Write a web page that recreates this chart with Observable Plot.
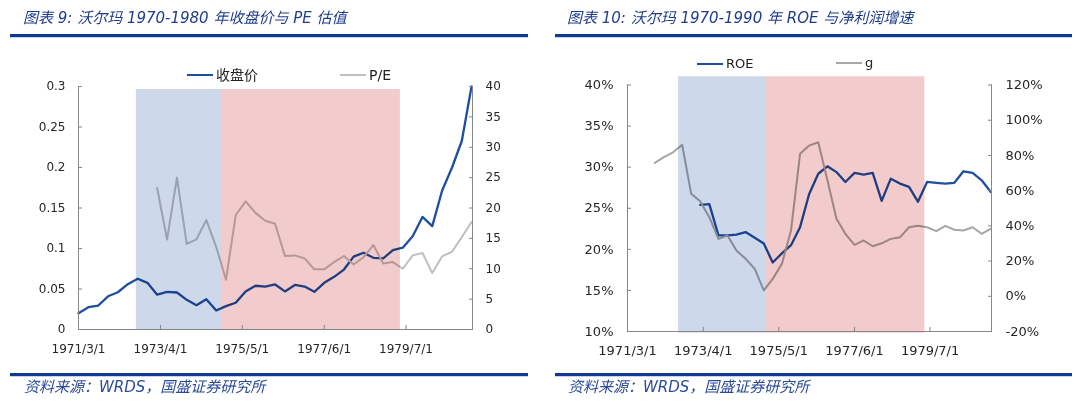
<!DOCTYPE html>
<html><head><meta charset="utf-8">
<script src="https://cdn.jsdelivr.net/npm/d3@7"></script>
<script src="https://cdn.jsdelivr.net/npm/@observablehq/plot@0.6"></script>
<style>
body{margin:0;background:#fff;}
#wrap{position:relative;width:1080px;height:404px;overflow:hidden;font-family:"DejaVu Sans","Noto Sans CJK SC",sans-serif;}
.title{position:absolute;top:8px;font-size:15px;font-style:italic;color:#1f3c8c;white-space:pre;line-height:20px;}
.rule{position:absolute;height:3px;background:#0e3a92;box-shadow:0 1px 0 #c9d3e8;}
.src{position:absolute;top:377px;font-size:15px;font-style:italic;color:#2a4a9a;white-space:pre;line-height:20px;}
.leg{position:absolute;color:#222;display:flex;align-items:center;white-space:nowrap;line-height:18px;}
.leg i{display:inline-block;width:26px;height:0;border-top-style:solid;margin-right:3px;}
.plot{position:absolute;top:40px;}
</style></head>
<body><div id="wrap">
<div class="title" style="left:23px">图表 9: 沃尔玛 1970-1980 年收盘价与 PE 估值</div>
<div class="title" style="left:567px">图表 10: 沃尔玛 1970-1990 年 ROE 与净利润增速</div>
<div class="rule" style="left:10px;width:518px;top:34px"></div>
<div class="rule" style="left:555px;width:517px;top:34px"></div>
<div class="rule" style="left:10px;width:518px;top:373px"></div>
<div class="rule" style="left:555px;width:517px;top:373px"></div>
<div class="src" style="left:24px">资料来源：WRDS，国盛证券研究所</div>
<div class="src" style="left:568px">资料来源：WRDS，国盛证券研究所</div>
<div id="p1" class="plot" style="left:0px"></div>
<div id="p2" class="plot" style="left:540px"></div>
<div class="leg" style="left:187px;top:66px;font-size:14px"><i style="border-top-width:2.5px;border-color:#1f4e9f"></i>收盘价</div>
<div class="leg" style="left:340px;top:66px;font-size:14px"><i style="border-top-width:2px;border-color:#bfbfbf"></i>P/E</div>
<div class="leg" style="left:697px;top:55px;font-size:13px"><i style="border-top-width:2.5px;border-color:#1f4e9f"></i>ROE</div>
<div class="leg" style="left:836px;top:54px;font-size:13px"><i style="border-top-width:2px;border-color:#a6a6a6"></i>g</div>
</div>
<script>
// ---------- data ----------
const quarters = ["1971-03","1971-06","1971-09","1971-12",
"1972-03","1972-06","1972-09","1972-12",
"1973-03","1973-06","1973-09","1973-12",
"1974-03","1974-06","1974-09","1974-12",
"1975-03","1975-06","1975-09","1975-12",
"1976-03","1976-06","1976-09","1976-12",
"1977-03","1977-06","1977-09","1977-12",
"1978-03","1978-06","1978-09","1978-12",
"1979-03","1979-06","1979-09","1979-12",
"1980-03","1980-06","1980-09","1980-12",
"1981-03"];

// 收盘价 (left axis, chart 9)
const closePrice = [0.020,0.0275,0.0296,0.041,0.046,0.056,0.0626,0.0576,0.043,0.0465,
0.0457,0.0366,0.030,0.0374,0.0235,0.0288,0.033,0.047,0.054,0.053,
0.0556,0.047,0.055,0.053,0.0465,0.0576,0.065,0.074,0.090,0.0947,
0.0885,0.0877,0.098,0.101,0.115,0.139,0.1276,0.1716,0.200,0.233,0.300];

// P/E (right axis, chart 9)
const peRatio = [null,null,null,null,null,null,null,null,
23.3,14.8,25.0,14.1,14.85,18.0,13.6,8.2,18.8,21.1,19.2,17.9,
17.4,12.1,12.2,11.7,9.9,9.9,11.1,12.1,10.7,11.9,
13.9,10.85,11.1,10.0,12.2,12.6,9.3,12.05,12.8,15.2,17.7];

// ROE % (left axis, chart 10)
const roe = [null,null,null,null,null,null,null,null,
25.4,25.5,21.7,21.7,21.8,22.1,21.4,20.7,18.4,19.5,20.5,22.7,
26.7,29.2,30.1,29.4,28.2,29.3,29.1,29.3,25.9,28.6,
28.0,27.6,25.8,28.2,28.1,28.0,28.1,29.5,29.3,28.4,27.0];

// g = 净利润增速 % (right axis, chart 10)
const growth = [null,null,null,
75.8,79.0,81.8,86.0,58.2,54.0,44.9,32.6,34.5,26.0,
21.3,15.6,3.3,9.9,18.4,37.4,80.9,85.6,87.5,66,
44.0,35.5,29.2,31.7,28.4,30.1,32.6,33.5,39.2,40.0,
39.2,37.0,40.0,37.8,37.4,39.2,35.5,38.3];

// axis ticks
const xTickLabels = ["1971/3/1","1973/4/1","1975/5/1","1977/6/1","1979/7/1"];
const xRange = ["1971/3/1","1981/3/10"];
const priceTicks = [0,0.05,0.1,0.15,0.2,0.25,0.3];
const peTicks = [0,5,10,15,20,25,30,35,40];
const roeTicks = [10,15,20,25,30,35,40];
const gTicks = [-20,0,20,40,60,80,100,120];

// shaded periods
const shadeLeft  = [{start:"1972/8/20", end:"1974/10/18", fill:"#cdd8ea"},
                    {start:"1974/10/18", end:"1979/5/10", fill:"#f2cbcc"}];
const shadeRight = [{start:"1972/7/27", end:"1974/12/30", fill:"#cdd8ea"},
                    {start:"1974/12/30", end:"1979/5/10", fill:"#f2cbcc"}];

// ---------- helpers ----------
const parseQ = s => new Date(s + "-01T00:00:00Z");
const parseSlash = s => { const [y,m,d] = s.split("/").map(Number); return new Date(Date.UTC(y,m-1,d)); };
const fmtSlash = d => `${d.getUTCFullYear()}/${d.getUTCMonth()+1}/${d.getUTCDate()}`;
const series = (vals, f = v => v) => quarters.map((q,i)=>({date:parseQ(q), v: vals[i]==null?null:f(vals[i])})).filter(d=>d.v!=null);
const xDomain = xRange.map(parseSlash);
const xTicks = xTickLabels.map(parseSlash);

const BLUE = "#1f4e9f", GRAY = "#bfbfbf", AX = "#868686", TXT = "#262626";

// ---------- chart 9 ----------
const peK = 0.3/40;
const leftRects = shadeLeft.map(s=>({x1:parseSlash(s.start), x2:parseSlash(s.end), y1:0, y2:0.2963, fill:s.fill}));
const p1 = Plot.plot({
  width:540, height:330, marginLeft:78, marginRight:68, marginTop:46, marginBottom:41,
  x:{type:"utc", domain:xDomain},
  y:{domain:[0,0.3]},
  style:{fontFamily:"DejaVu Sans", fontSize:"12px", color:TXT, background:"transparent", overflow:"visible"},
  marks:[
    Plot.line(series(closePrice), {x:"date", y:"v", stroke:BLUE, strokeWidth:2.3}),
    Plot.line(series(peRatio, v=>v*peK), {x:"date", y:"v", stroke:GRAY, strokeWidth:2}),
    Plot.rect(leftRects, {x1:"x1", x2:"x2", y1:"y1", y2:"y2", fill:d=>d.fill, mixBlendMode:"multiply"}),
    Plot.ruleX([xDomain[0]], {stroke:AX}),
    Plot.ruleX([xDomain[1]], {stroke:AX}),
    Plot.ruleY([0], {stroke:AX}),
    Plot.axisY({anchor:"left", ticks:priceTicks, tickFormat:d=>String(+d.toFixed(2)), tickSize:-4, tickPadding:17, stroke:AX, fill:TXT, label:null}),
    Plot.axisY({anchor:"right", ticks:peTicks.map(v=>v*peK), tickFormat:d=>String(Math.round(d/peK)), tickSize:-4, tickPadding:17, stroke:AX, fill:TXT, label:null}),
    Plot.axisX({ticks:xTicks, tickFormat:fmtSlash, tickSize:-4, tickPadding:19, stroke:AX, fill:TXT, label:null})
  ]
});
document.getElementById("p1").append(p1);

// ---------- chart 10 ----------
const gToRoe = g => 0.10 + (g/100 + 0.2) * (0.30/1.40);
const roeToG = r => ((r - 0.10) * (1.40/0.30) - 0.2);
const rightRects = shadeRight.map(s=>({x1:parseSlash(s.start), x2:parseSlash(s.end), y1:0.098, y2:0.41, fill:s.fill}));
const p2 = Plot.plot({
  width:540, height:330, marginLeft:87, marginRight:89, marginTop:44.5, marginBottom:39,
  x:{type:"utc", domain:xDomain},
  y:{domain:[0.10,0.40]},
  style:{fontFamily:"DejaVu Sans", fontSize:"13px", color:TXT, background:"transparent", overflow:"visible"},
  marks:[
    Plot.line(series(roe, v=>v/100), {x:"date", y:"v", stroke:BLUE, strokeWidth:2.3}),
    Plot.line(series(growth, gToRoe), {x:"date", y:"v", stroke:"#a6a6a6", strokeWidth:2}),
    Plot.rect(rightRects, {x1:"x1", x2:"x2", y1:"y1", y2:"y2", fill:d=>d.fill, mixBlendMode:"multiply"}),
    Plot.ruleX([xDomain[0]], {stroke:AX}),
    Plot.ruleX([xDomain[1]], {stroke:AX}),
    Plot.ruleY([0.10], {stroke:AX}),
    Plot.axisY({anchor:"left", ticks:roeTicks.map(v=>v/100), tickFormat:d=>Math.round(d*100)+"%", tickSize:-4, tickPadding:18, stroke:AX, fill:TXT, label:null}),
    Plot.axisY({anchor:"right", ticks:gTicks.map(gToRoe), tickFormat:d=>Math.round(roeToG(d)*100)+"%", tickSize:-4, tickPadding:18, stroke:AX, fill:TXT, label:null}),
    Plot.axisX({ticks:xTicks, tickFormat:fmtSlash, tickSize:-4, tickPadding:18, stroke:AX, fill:TXT, label:null})
  ]
});
document.getElementById("p2").append(p2);
</script>
</body></html>
